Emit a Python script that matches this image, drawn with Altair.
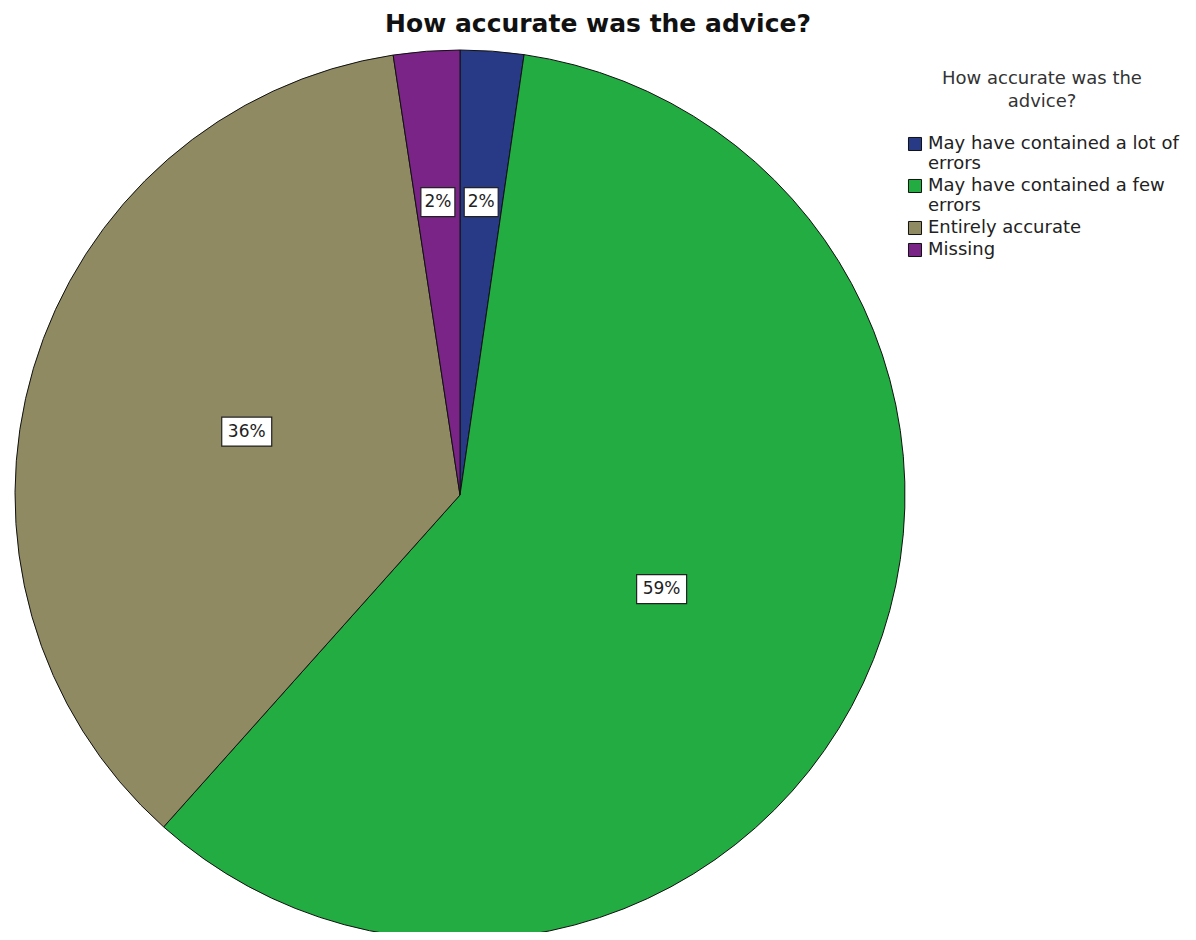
import altair as alt
import pandas as pd

categories = ["May have contained a lot of errors", "May have contained a few errors",
              "Entirely accurate", "Missing"]
percents = [2.3, 59.3, 36.0, 2.4]
labels = ["2%", "59%", "36%", "2%"]
colors = ["#283a86", "#22ac42", "#8f8a62", "#7a2488"]
title_text = "How accurate was the advice?"

df = pd.DataFrame({"cat": categories, "pct": percents, "lab": labels, "ord": list(range(len(categories)))})

R = 445
CX, CY = 452, 487
FONT = "DejaVu Sans"

pie = alt.Chart(df).mark_arc(radius=R, stroke="#111", strokeWidth=1).encode(
    theta=alt.Theta("pct:Q", stack=True),
    order=alt.Order("ord:Q"),
    x=alt.value(CX), y=alt.value(CY),
    color=alt.Color(
        "cat:N",
        scale=alt.Scale(domain=categories, range=colors),
        sort=categories,
        legend=alt.Legend(
            title=["How accurate was the", "advice?"],
            orient="none", legendX=898, legendY=62,
            titleFont=FONT, titleFontSize=18, titleFontWeight="normal", titleColor="#333",
            titleAnchor="middle", titleAlign="center", titlePadding=24, titleLineHeight=23,
            titleLimit=500,
            labelFont=FONT, labelFontSize=18, labelColor="#222", labelLimit=0,
            labelExpr="datum.label == 'May have contained a lot of errors' ? ['May have contained a lot of', 'errors'] : datum.label == 'May have contained a few errors' ? ['May have contained a few', 'errors'] : datum.label",
            symbolType="square", symbolSize=170, symbolStrokeColor="#111", symbolStrokeWidth=1,
            symbolOpacity=1, rowPadding=4, labelOffset=4,
        ),
    ),
)

lab_base = alt.Chart(df).transform_window(
    cum="sum(pct)", sort=[alt.SortField("ord", order="ascending")], frame=[None, 0]
).transform_joinaggregate(
    total="sum(pct)"
).transform_calculate(
    mid="(datum.cum - datum.pct / 2) / datum.total",
    lr="datum.pct / datum.total < 0.05 ? 0.66 : 0.5",
    boxw="16 * length(datum.lab) + 2",
).transform_calculate(
    lx="datum.lr * sin(2 * PI * datum.mid)",
    ly="datum.lr * cos(2 * PI * datum.mid)",
    bsize="datum.boxw * datum.boxw",
    bshape="'M-1,-' + format(29/datum.boxw, '.3f') + 'H1V' + format(29/datum.boxw, '.3f') + 'H-1Z'",
).encode(
    x=alt.X("lx:Q", scale=alt.Scale(domain=[-1, 1], range=[CX - R, CX + R]), axis=None),
    y=alt.Y("ly:Q", scale=alt.Scale(domain=[-1, 1], range=[CY + R, CY - R]), axis=None),
)

boxes = lab_base.mark_point(filled=True, fill="white", stroke="#222", strokeWidth=1.2, opacity=1).encode(
    size=alt.Size("bsize:Q", scale=None),
    shape=alt.Shape("bshape:N", scale=None),
)

texts = lab_base.mark_text(font=FONT, fontSize=17, color="#222", baseline="middle", align="center").encode(
    text="lab:N",
)

title = alt.Chart(pd.DataFrame({"t": [title_text]})).mark_text(
    font=FONT, fontSize=25, fontWeight="bold", color="#111", align="center", baseline="middle"
).encode(x=alt.value(590), y=alt.value(16), text="t:N")

chart = alt.layer(pie, boxes, texts, title).properties(
    width=1180, height=924, autosize=alt.AutoSizeParams(type="none"), padding=0
).configure_view(stroke=None)

chart.save("out.html", embed_options={"renderer": "svg", "actions": False})
